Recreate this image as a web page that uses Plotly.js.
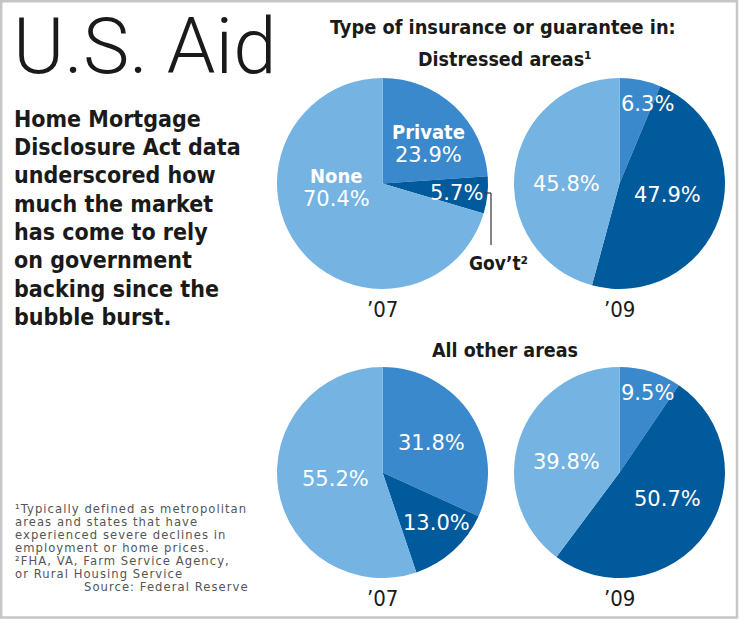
<!DOCTYPE html>
<html><head><meta charset="utf-8">
<script src="https://cdn.plot.ly/plotly-3.0.1.min.js"></script>
<style>
html,body{margin:0;padding:0;background:#fff}#chart{width:740px;height:619px}
/* footnote lines (the only 11.6px annotations) get the wide tracking of the print original */
text.annotation-text[style*="font-size: 11.6px"]{letter-spacing:1.05px}
</style>
</head><body><div id="chart"></div>
<script>
// ---- data ----
const categories = ["Private", "Gov't", "None"];
const distressed07 = [23.9, 5.7, 70.4];
const distressed09 = [6.3, 47.9, 45.8];
const other07 = [31.8, 13.0, 55.2];
const other09 = [9.5, 50.7, 39.8];
const yearLabels = ["\u201907", "\u201909"];
const groupTitles = ["Distressed areas\u00B9", "All other areas"];
const mainTitle = "U.S. Aid";
const supTitle = "Type of insurance or guarantee in:";
const bodyLines = ["Home Mortgage", "Disclosure Act data", "underscored how", "much the market",
  "has come to rely", "on government", "backing since the", "bubble burst."];
const footLines = ["\u00B9Typically defined as metropolitan", "areas and states that have",
  "experienced severe declines in", "employment or home prices.",
  "\u00B2FHA, VA, Farm Service Agency,", "or Rural Housing Service"];
const sourceText = "Source: Federal Reserve";
const govLabel = "Gov\u2019t\u00B2";

// ---- styles / layout ----
const W = 740, H = 619;
const sliceColors = ["#3a89cd", "#015a9c", "#74b3e2"];
const COND = "'DejaVu Sans Condensed', 'DejaVu Sans', sans-serif";
const REG = "'DejaVu Sans', sans-serif";
const px = x => x / W, py = y => 1 - y / H;

const pies = [
  {values: distressed07, box: [277, 78, 488, 289], names: ["Private", null, "None"], place: [[6, 0.58], [1, 0.71], [32, 0.44]]},
  {values: distressed09, box: [514, 78, 725, 289], names: [null, null, null], place: [[8, 0.80], [-5, 0.47], [-7.6, 0.50]]},
  {values: other07, box: [277, 367, 488, 578], names: [null, null, null], place: [[1.4, 0.54], [-5, 0.70], [2, 0.45]]},
  {values: other09, box: [514, 367, 725, 578], names: [null, null, null], place: [[2, 0.80], [-7, 0.52], [-7.3, 0.51]]}
];

const traces = pies.map(p => ({
  type: 'pie', labels: categories, values: p.values, sort: false, direction: 'clockwise', rotation: 0,
  marker: {colors: sliceColors, line: {width: 0}}, textinfo: 'none', hoverinfo: 'skip', showlegend: false,
  domain: {x: [px(p.box[0]), px(p.box[2])], y: [py(p.box[3]), py(p.box[1])]}
}));

function ann(text, x, y, font, xa) {
  return {text: text, x: px(x), y: py(y), xref: 'paper', yref: 'paper', showarrow: false,
    xanchor: xa || 'center', yanchor: 'middle', font: font};
}
const annotations = [];
annotations.push(ann(mainTitle, 11, 46, {family: "Roboto, sans-serif", size: 78, color: '#1a1a1a', weight: 300}, 'left'));
bodyLines.forEach((t, i) => annotations.push(ann(t, 12, 118.7 + i * 28.35, {family: COND, size: 23, color: '#1a1a1a', weight: 700}, 'left')));
annotations.push(ann(supTitle, 503, 27.5, {family: COND, size: 19.8, color: '#1a1a1a', weight: 700}));
annotations.push(ann(groupTitles[0], 505, 59.2, {family: COND, size: 19.5, color: '#1a1a1a', weight: 700}));
annotations.push(ann(groupTitles[1], 505, 350, {family: COND, size: 19.5, color: '#1a1a1a', weight: 700}));
[[0, 309], [1, 309], [0, 598], [1, 598]].forEach((d, i) => {
  const b = pies[i].box;
  annotations.push(ann(yearLabels[d[0]], (b[0] + b[2]) / 2, d[1], {family: COND, size: 22, color: '#1a1a1a'}));
});
annotations.push(ann(govLabel, 498, 262.5, {family: COND, size: 19, color: '#1a1a1a', weight: 700}));
footLines.forEach((t, i) => annotations.push(ann(t, 13, 509.5 + i * 12.85 - (i === 0 ? 1 : 0), {family: REG, size: 11.6, color: '#555'}, 'left')));
annotations.push(ann(sourceText, 251, 586.8, {family: REG, size: 11.6, color: '#555'}, 'right'));

// slice labels computed from data
pies.forEach(p => {
  const total = p.values.reduce((a, b) => a + b, 0);
  const cx = (p.box[0] + p.box[2]) / 2, cy = (p.box[1] + p.box[3]) / 2, R = (p.box[2] - p.box[0]) / 2;
  let cum = 0;
  p.values.forEach((v, i) => {
    const mid = (cum + v / 2) / total * 360 + p.place[i][0];
    cum += v;
    const r = p.place[i][1] * R, a = mid * Math.PI / 180;
    const x = cx + r * Math.sin(a), y = cy - r * Math.cos(a);
    const num = v.toFixed(1) + '%';
    if (p.names[i]) {
      annotations.push(ann(p.names[i], x, y - 11.5, {family: COND, size: 20, color: '#fff', weight: 700}));
      annotations.push(ann(num, x, y + 11.5, {family: REG, size: 21, color: '#fff'}));
    } else {
      annotations.push(ann(num, x, y, {family: REG, size: 21, color: '#fff'}));
    }
  });
});

const shapes = [
  {type: 'rect', xref: 'paper', yref: 'paper', x0: px(1.2), x1: px(737), y0: py(617.5), y1: py(1.2), line: {color: '#c6c6c6', width: 2.5}},
  {type: 'line', xref: 'paper', yref: 'paper', x0: px(485), x1: px(491), y0: py(193), y1: py(193), line: {color: '#333', width: 1.2}},
  {type: 'line', xref: 'paper', yref: 'paper', x0: px(491), x1: px(491), y0: py(193), y1: py(245), line: {color: '#333', width: 1.2}}
];

const layout = {width: W, height: H, margin: {l: 0, r: 0, t: 0, b: 0}, paper_bgcolor: '#fff', plot_bgcolor: '#fff',
  annotations: annotations, shapes: shapes, showlegend: false};
Plotly.newPlot('chart', traces, layout, {displayModeBar: false, staticPlot: true});
</script></body></html>
